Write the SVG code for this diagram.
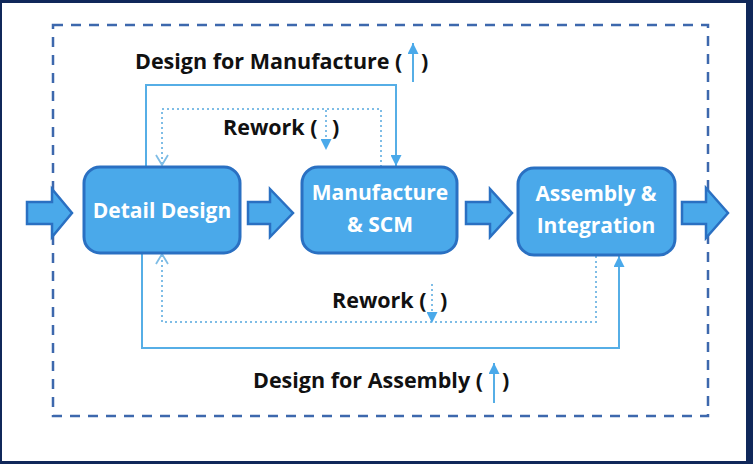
<svg xmlns="http://www.w3.org/2000/svg" width="753" height="464" viewBox="0 0 753 464">
<style>
.lbl{font-family:"Open Sans","Liberation Sans",sans-serif;font-weight:bold;font-size:21.5px;fill:#111}
.ntx{font-family:"Open Sans","Liberation Sans",sans-serif;font-weight:bold;font-size:21px;fill:#fff;text-anchor:middle}
.node{fill:#4aa9ea;stroke:#2a70c2;stroke-width:3}
.big{fill:#4aa9ea;stroke:#2a70c2;stroke-width:2.5;stroke-linejoin:miter}
.solid{fill:none;stroke:#56aee6;stroke-width:2}
.dot{fill:none;stroke:#7fbde6;stroke-width:2;stroke-dasharray:2 3}
</style>
<defs>
<marker id="tri" markerUnits="userSpaceOnUse" markerWidth="11" markerHeight="11" refX="11" refY="5.5" orient="auto">
<path d="M0,0 L11,5.5 L0,11 z" fill="#4aa9ea"/>
</marker>
<marker id="chev" markerUnits="userSpaceOnUse" markerWidth="12" markerHeight="14" refX="11" refY="7" orient="auto">
<path d="M1,1 L11,7 L1,13" fill="none" stroke="#7fbde6" stroke-width="1.8"/>
</marker>
</defs>
<rect x="0" y="0" width="753" height="464" fill="#10285a"/>
<rect x="2" y="3" width="744" height="458" fill="#ffffff"/>
<rect x="53" y="25" width="655" height="391" fill="none" stroke="#3d68ad" stroke-width="2.5" stroke-dasharray="10 8"/>

<g id="connectors">
<polygon class="big" points="27,202 52,202 52,189 72,213 52,237 52,224 27,224"/>
<polygon class="big" points="248,202 270,202 270,189 293,213 270,237 270,224 248,224"/>
<polygon class="big" points="466,202 490,202 490,189 512,213 490,237 490,224 466,224"/>
<polygon class="big" points="682,202 706,202 706,188 728,213 706,238 706,224 682,224"/>
<path class="solid" d="M146,167 V85 H396 V166" marker-end="url(#tri)"/>
<path class="dot" d="M381,167 V109 H162 V165" marker-end="url(#chev)"/>
<path class="solid" d="M142,254 V348 H619 V256" marker-end="url(#tri)"/>
<path class="dot" d="M596,256 V322 H162 V254" marker-end="url(#chev)"/>
</g>

<g id="legend">
<text class="lbl" x="135" y="69">Design for Manufacture (</text>
<text class="lbl" x="421" y="69">)</text>
<path class="solid" d="M413,82 V43" marker-end="url(#tri)"/>
<text class="lbl" x="223" y="135">Rework (</text>
<text class="lbl" x="332" y="135">)</text>
<path class="dot" d="M326,110 V150" marker-end="url(#tri)"/>
<text class="lbl" x="332" y="308">Rework (</text>
<text class="lbl" x="440" y="308">)</text>
<path class="dot" d="M432,284 V323" marker-end="url(#tri)"/>
<text class="lbl" x="253" y="388">Design for Assembly (</text>
<text class="lbl" x="502" y="388">)</text>
<path class="solid" d="M494,403 V363" marker-end="url(#tri)"/>
</g>

<g id="detail-design">
<rect class="node" x="84" y="167" width="156" height="86" rx="16"/>
<text class="ntx" x="162" y="218">Detail Design</text>
</g>
<g id="manufacture-scm">
<rect class="node" x="302" y="167" width="155" height="86" rx="16"/>
<text class="ntx" x="380" y="200">Manufacture</text>
<text class="ntx" x="380" y="232">&amp; SCM</text>
</g>
<g id="assembly-integration">
<rect class="node" x="518" y="168" width="157" height="87" rx="16"/>
<text class="ntx" x="596" y="201">Assembly &amp;</text>
<text class="ntx" x="596" y="233">Integration</text>
</g>
</svg>
